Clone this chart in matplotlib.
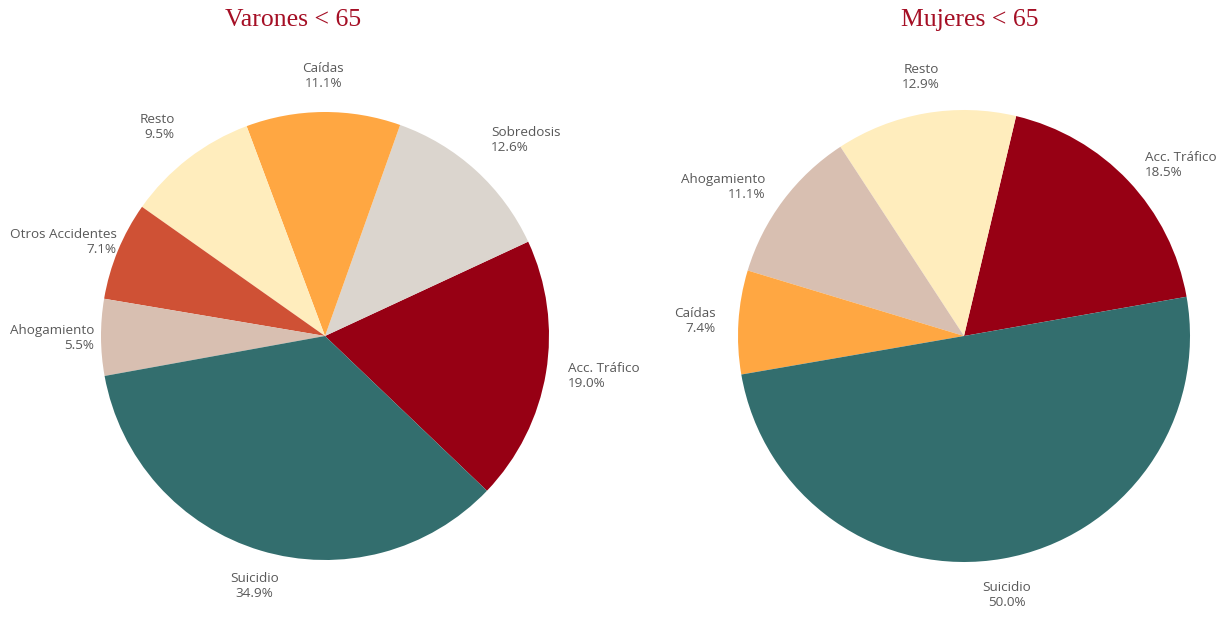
import matplotlib.pyplot as plt
import numpy as np

# Varones < 65
varones_labels = ['Acc. Tráfico', 'Sobredosis', 'Caídas', 'Resto', 'Otros Accidentes', 'Ahogamiento', 'Suicidio']
varones_values = [19.0, 12.6, 11.1, 9.5, 7.1, 5.5, 34.9]

# Mujeres < 65
mujeres_labels = ['Acc. Tráfico', 'Resto', 'Ahogamiento', 'Caídas', 'Suicidio']
mujeres_values = [18.5, 12.9, 11.1, 7.4, 50.0]

colores = {
    'Acc. Tráfico': '#970014',
    'Sobredosis': '#dbd5ce',
    'Caídas': '#ffa742',
    'Resto': '#ffedbd',
    'Otros Accidentes': '#cf5135',
    'Ahogamiento': '#d8bfb1',
    'Suicidio': '#336e6e',
}

W, H = 1228, 619
fig = plt.figure(figsize=(W / 100, H / 100), dpi=100)
textos = []


def dibujar(cx, cy, radio, etiquetas, valores, inicio, titulo, tx):
    s = 300
    ax = fig.add_axes([(cx - s) / W, (H - cy - s) / H, 2 * s / W, 2 * s / H])
    lim = s / radio
    wedges, _ = ax.pie(valores, colors=[colores[e] for e in etiquetas],
                       startangle=inicio, counterclock=True, radius=1,
                       wedgeprops=dict(linewidth=0))
    ax.set_xlim(-lim, lim)
    ax.set_ylim(-lim, lim)
    ax.set_aspect('equal')
    ax.axis('off')

    # etiquetas fuera de la tarta
    for w, e, v in zip(wedges, etiquetas, valores):
        ang = np.deg2rad((w.theta1 + w.theta2) / 2)
        c, s_ = np.cos(ang), np.sin(ang)
        x, y = 1.1 * c, 1.1 * s_
        ha = 'left' if c > 0.3 else ('right' if c < -0.3 else 'center')
        va = 'bottom' if s_ > 0.7 else ('top' if s_ < -0.7 else 'center')
        t = ax.text(x, y, f'{e}\n{v:.1f}%', ha=ha, va=va, multialignment=ha,
                    fontsize=9.7, color='#595959', family='Open Sans', linespacing=1.2)
        textos.append((ax, t))

    fig.text(tx / W, 1 - 20 / H, titulo, ha='center', va='center',
             fontsize=18.5, color='#a50f25', family='Liberation Serif')


dibujar(325, 336, 224, varones_labels, varones_values, -43.7, 'Varones < 65', 293)
dibujar(964, 336, 226, mujeres_labels, mujeres_values, 10, 'Mujeres < 65', 970)

# que ninguna etiqueta se salga del borde (margen 10 px)
fig.canvas.draw()
rend = fig.canvas.get_renderer()
for ax, t in textos:
    bb = t.get_window_extent(rend)
    dx = 0
    if bb.x0 < 10:
        dx = 10 - bb.x0
    elif bb.x1 > W - 6:
        dx = (W - 6) - bb.x1
    if dx:
        px, py = ax.transData.transform(t.get_position())
        t.set_position(ax.transData.inverted().transform((px + dx, py)))

plt.savefig('out.png', dpi=100)
